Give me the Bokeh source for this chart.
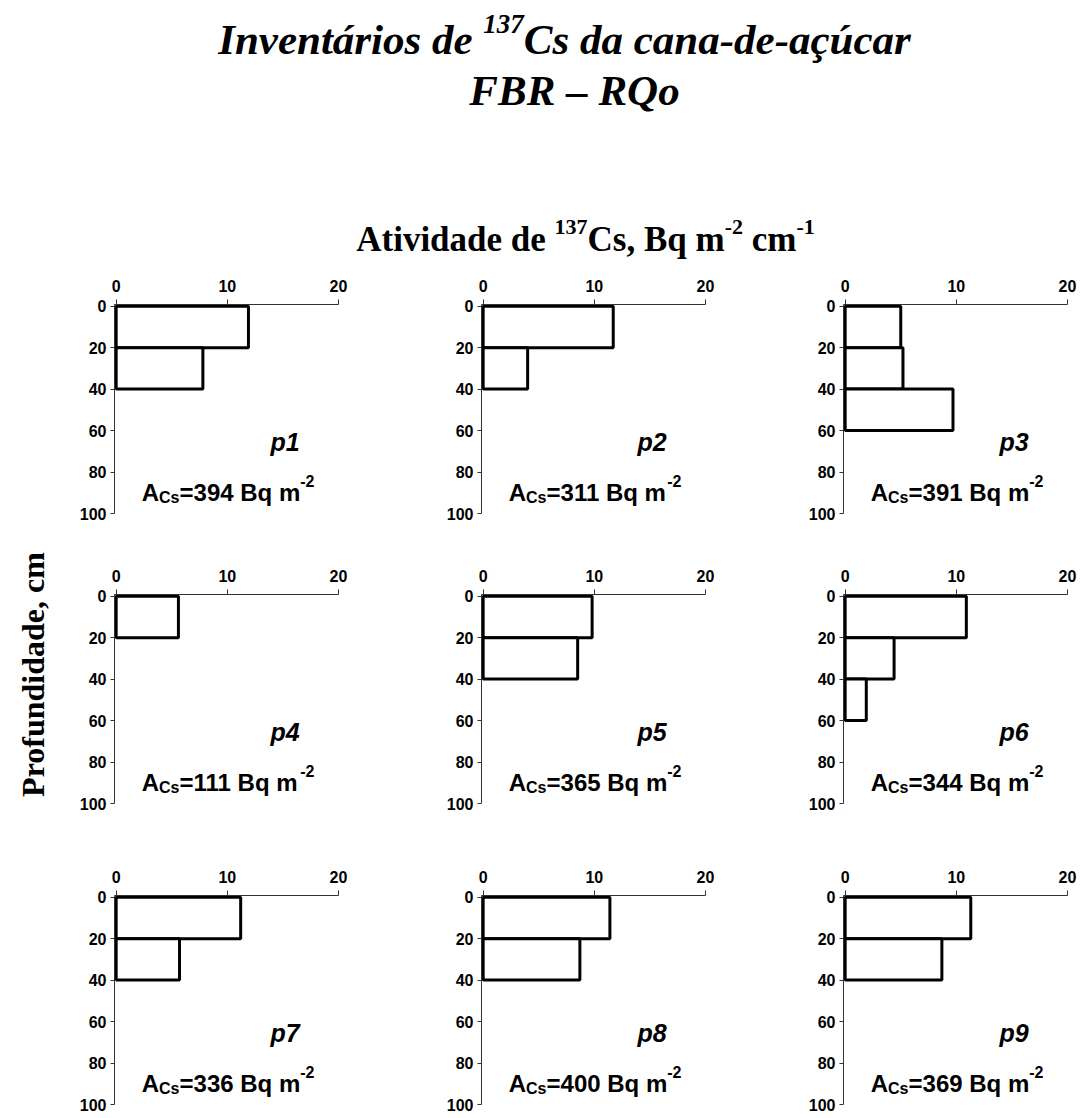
import math
from bokeh.plotting import figure
from bokeh.layouts import column, row
from bokeh.models import Range1d, FixedTicker
from bokeh.core.properties import value
from bokeh.embed import file_html
from bokeh.resources import INLINE

# ---------------- data ----------------
x_ticks = [0, 10, 20]
depth_ticks = [0, 20, 40, 60, 80, 100]
layer_top = [0, 20, 40]
layer_bottom = [20, 40, 60]
profile_names = ["p1", "p2", "p3", "p4", "p5", "p6", "p7", "p8", "p9"]
act_p1 = [11.9, 7.8]
act_p2 = [11.7, 4.0]
act_p3 = [5.0, 5.2, 9.7]
act_p4 = [5.6]
act_p5 = [9.8, 8.5]
act_p6 = [10.9, 4.4, 1.9]
act_p7 = [11.2, 5.7]
act_p8 = [11.4, 8.7]
act_p9 = [11.3, 8.7]
activities = [act_p1, act_p2, act_p3, act_p4, act_p5, act_p6, act_p7, act_p8, act_p9]
inventories = [394, 311, 391, 111, 365, 344, 336, 400, 369]

title_1a = "Inventários de "
title_1b = "137"
title_1c = "Cs da cana-de-açúcar"
title_2 = "FBR – RQo"
xlabel_runs = ["Atividade de ", "137", "Cs, Bq m", "-2", " cm", "-1"]
ylabel = "Profundidade, cm"

# ---------------- font metrics (per 1000 em) ----------------
DIG = {str(d): 500 for d in range(10)}
TB = dict(DIG, **{' ': 250, ',': 250, '-': 333, 'A': 722, 'B': 667, 'C': 722, 'a': 500,
                  'c': 444, 'd': 556, 'e': 444, 'i': 278, 'm': 833, 'q': 556, 's': 389,
                  't': 333, 'v': 500})
TBI = dict(DIG, **{' ': 250, '-': 333, '–': 500, 'I': 389, 'C': 667, 'F': 667, 'B': 667,
                   'R': 667, 'Q': 722, 'a': 500, 'á': 500, 'c': 444, 'ç': 444, 'd': 500,
                   'e': 444, 'i': 278, 'n': 556, 'o': 500, 'r': 389, 's': 389, 't': 278,
                   'u': 556, 'ú': 556, 'v': 444})
HB = dict({str(d): 556 for d in range(10)}, **{' ': 278, '-': 333, '=': 584, 'A': 722,
                                               'B': 722, 'C': 722, 'm': 889, 'q': 611, 's': 556})
SERIF = "Liberation Serif"
SANS = "Liberation Sans"


def tw(s, table, size):
    return sum(table.get(c, 500) for c in s) / 1000.0 * size


def draw_runs(p, x, y, runs, align="left", dy0=0):
    # runs: (text, size, font, style, table, dy)
    widths = [tw(t, tab, sz) for (t, sz, f, st, tab, dy) in runs]
    off = 0.0 if align == "left" else -sum(widths) / 2.0
    for (t, sz, f, st, tab, dy), w in zip(runs, widths):
        lead = len(t) - len(t.lstrip(" "))
        shift = tw(" " * lead, tab, sz)
        p.text(x=[x], y=[y], text=[t.strip(" ")], x_offset=off + shift, y_offset=dy + dy0,
               text_font=value(f), text_font_style=st, text_font_size=f"{sz}px",
               text_align="left", text_baseline="alphabetic", text_color="black")
        off += w


def blank_fig(w, h):
    p = figure(width=w, height=h, x_range=Range1d(0, w), y_range=Range1d(h, 0),
               title=None, output_backend="svg", toolbar_location=None, x_axis_type=None,
               y_axis_type=None, min_border=0, outline_line_color=None)
    p.grid.visible = False
    return p


# ---------------- header ----------------
HEAD_W, HEAD_H = 1081, 264
head = blank_fig(HEAD_W, HEAD_H)
TS, TSS = 43, 27
draw_runs(head, 564, 46, [
    (title_1a, TS, SERIF, "bold italic", TBI, 0),
    (title_1b, TSS, SERIF, "bold italic", TBI, -16),
    (title_1c, TS, SERIF, "bold italic", TBI, 0),
], align="center", dy0=-7)
draw_runs(head, 574, 97, [(title_2, TS, SERIF, "bold italic", TBI, 0)], align="center", dy0=-7)
XS, XSS = 35, 22
xl_runs = []
for i, t in enumerate(xlabel_runs):
    sup = i in (1, 3, 5)
    xl_runs.append((t, XSS if sup else XS, SERIF, "bold", TB, -13 if sup else 0))
draw_runs(head, 585, 251, xl_runs, align="center", dy0=-12)

# ---------------- left label ----------------
col_specs = [(372, 46, 102), (360, 41, 95), (281, 43, 14)]
row_specs = [(290, 40, 41), (301, 40, 52), (263, 40, 14)]
GRID_H = sum(r[0] for r in row_specs)
left = blank_fig(68, GRID_H)
left.text(x=[32], y=[410], text=[ylabel], angle=math.pi / 2, text_font=value(SERIF),
          text_font_style="bold", text_font_size="32px", text_align="center",
          text_baseline="middle", text_color="black")

# ---------------- panels ----------------


def panel(i):
    r, c = divmod(i, 3)
    w, bl, br = col_specs[c]
    h, bt, bb = row_specs[r]
    p = figure(width=w, height=h, x_range=Range1d(-0.15, 20), y_range=Range1d(100, -0.8),
               title=None, x_axis_location="above", output_backend="svg",
               toolbar_location=None, min_border_left=bl, min_border_right=br,
               min_border_top=bt, min_border_bottom=bb, outline_line_color=None)
    p.grid.visible = False
    acts = activities[i]
    n = len(acts)
    p.quad(left=[0] * n, right=acts, top=layer_top[:n], bottom=layer_bottom[:n],
           fill_color="white", line_color="black", line_width=3)
    p.xaxis.ticker = FixedTicker(ticks=x_ticks)
    p.yaxis.ticker = FixedTicker(ticks=depth_ticks)
    for ax in (p.xaxis, p.yaxis):
        ax.minor_tick_line_color = None
        ax.major_tick_in = 0
        ax.axis_line_color = "#333333"
        ax.major_tick_line_color = "#333333"
        ax.major_label_text_font = SANS
        ax.major_label_text_font_style = "bold"
        ax.major_label_text_font_size = "16px"
        ax.major_label_text_color = "black"
    p.xaxis.major_tick_out = 5
    p.xaxis.major_label_standoff = 8
    p.yaxis.major_tick_out = 4
    p.yaxis.major_label_standoff = 4
    p.text(x=[15.2], y=[65.5], text=[profile_names[i]], text_font=value(SANS),
           text_font_style="bold italic", text_font_size="25px", text_align="center",
           text_baseline="middle", text_color="black")
    draw_runs(p, 2.3, 94, [
        ("A", 24, SANS, "bold", HB, 0),
        ("Cs", 16, SANS, "bold", HB, 5),
        (f"={inventories[i]} Bq m", 24, SANS, "bold", HB, 0),
        ("-2", 16, SANS, "bold", HB, -11),
    ], dy0=-9)
    return p


panels = [panel(i) for i in range(9)]
grid = column(row(*panels[0:3]), row(*panels[3:6]), row(*panels[6:9]))
layout = column(head, row(left, grid))

open("out.html", "w").write(file_html(layout, INLINE))
